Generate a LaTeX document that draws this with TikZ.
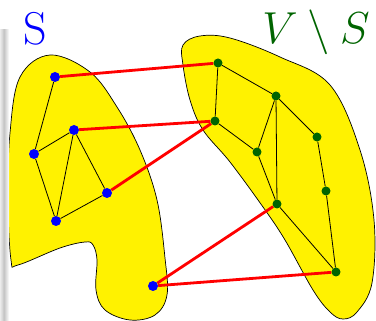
\documentclass[tikz,border=0pt]{standalone}
\usepackage{graphicx}
\definecolor{dgreen}{RGB}{0,100,0}
\pgfdeclarelayer{blob}
\pgfdeclarelayer{edge}
\pgfsetlayers{blob,edge,main}
\begin{document}
\begin{tikzpicture}[x=1pt,y=-1pt,
  bdot/.style={circle,fill=blue,inner sep=0pt,minimum size=10pt},
  gdot/.style={circle,fill=dgreen,inner sep=0pt,minimum size=9pt},
  gedge/.style={black,line width=0.8pt},
  cut/.style={red,line width=2.8pt},
  blobstyle/.style={fill=yellow,draw=black,line width=0.7pt}]
\useasboundingbox (0,0) rectangle (376,321);
% shadow strip
\shade[left color=gray!15,right color=gray!45] (0,30) rectangle (4,321);
\shade[left color=gray!45,right color=white] (4,30) rectangle (9,321);
% blobs
\begin{pgfonlayer}{blob}
\draw[blobstyle] plot[smooth cycle,tension=0.6] coordinates {
 (50,55) (90,72) (117,107) (140,150) (157,200) (165,258) (167,295) (155,315)
 (130,320) (105,310) (96,290) (97,260) (93,245) (85,242) (60,248) (18,265)
 (11,260) (8,200) (10,133) (20,77)};
\draw[blobstyle] plot[smooth cycle,tension=0.6] coordinates {
 (183,45) (200,36) (230,38) (280,57) (330,85) (360,150) (374,220) (372,283)
 (357,312) (343,319) (330,312) (313,290) (285,240) (263,207) (230,162)
 (203,130) (190,100) (183,65)};
\end{pgfonlayer}
% nodes
\node[bdot] (a1) at (55,77) {};
\node[bdot] (a2) at (74,130) {};
\node[bdot] (a3) at (34,154) {};
\node[bdot] (a4) at (107,193) {};
\node[bdot] (a5) at (56,221) {};
\node[bdot] (a6) at (153,286) {};
\node[gdot] (b1) at (218,63) {};
\node[gdot] (b2) at (276,96) {};
\node[gdot] (b3) at (215,121) {};
\node[gdot] (b4) at (317,137) {};
\node[gdot] (b5) at (257,152) {};
\node[gdot] (b6) at (326,191) {};
\node[gdot] (b7) at (277,204) {};
\node[gdot] (b8) at (336,272) {};
\begin{pgfonlayer}{edge}
\draw[gedge] (a1) -- (a3) (a3) -- (a2) (a3) -- (a5) (a2) -- (a5) (a2) -- (a4) (a4) -- (a5);
\draw[gedge] (b1) -- (b2) (b1) -- (b3) (b2) -- (b5) (b2) -- (b7) (b2) -- (b4)
  (b3) -- (b5) (b5) -- (b7) (b4) -- (b6) (b6) -- (b8) (b7) -- (b8);
\draw[cut] (a1) -- (b1) (a2) -- (b3) (a4) -- (b3) (a6) -- (b7) (a6) -- (b8);
\end{pgfonlayer}
% labels
\node[blue,anchor=base,inner sep=0pt,font=\Huge] (ls) at (35,45) {\scalebox{1.85}{S}};
\node[dgreen,anchor=base,inner sep=0pt,font=\Huge] (lv) at (316,44) {\scalebox{1.8}{$V\setminus S$}};
\end{tikzpicture}
\end{document}
